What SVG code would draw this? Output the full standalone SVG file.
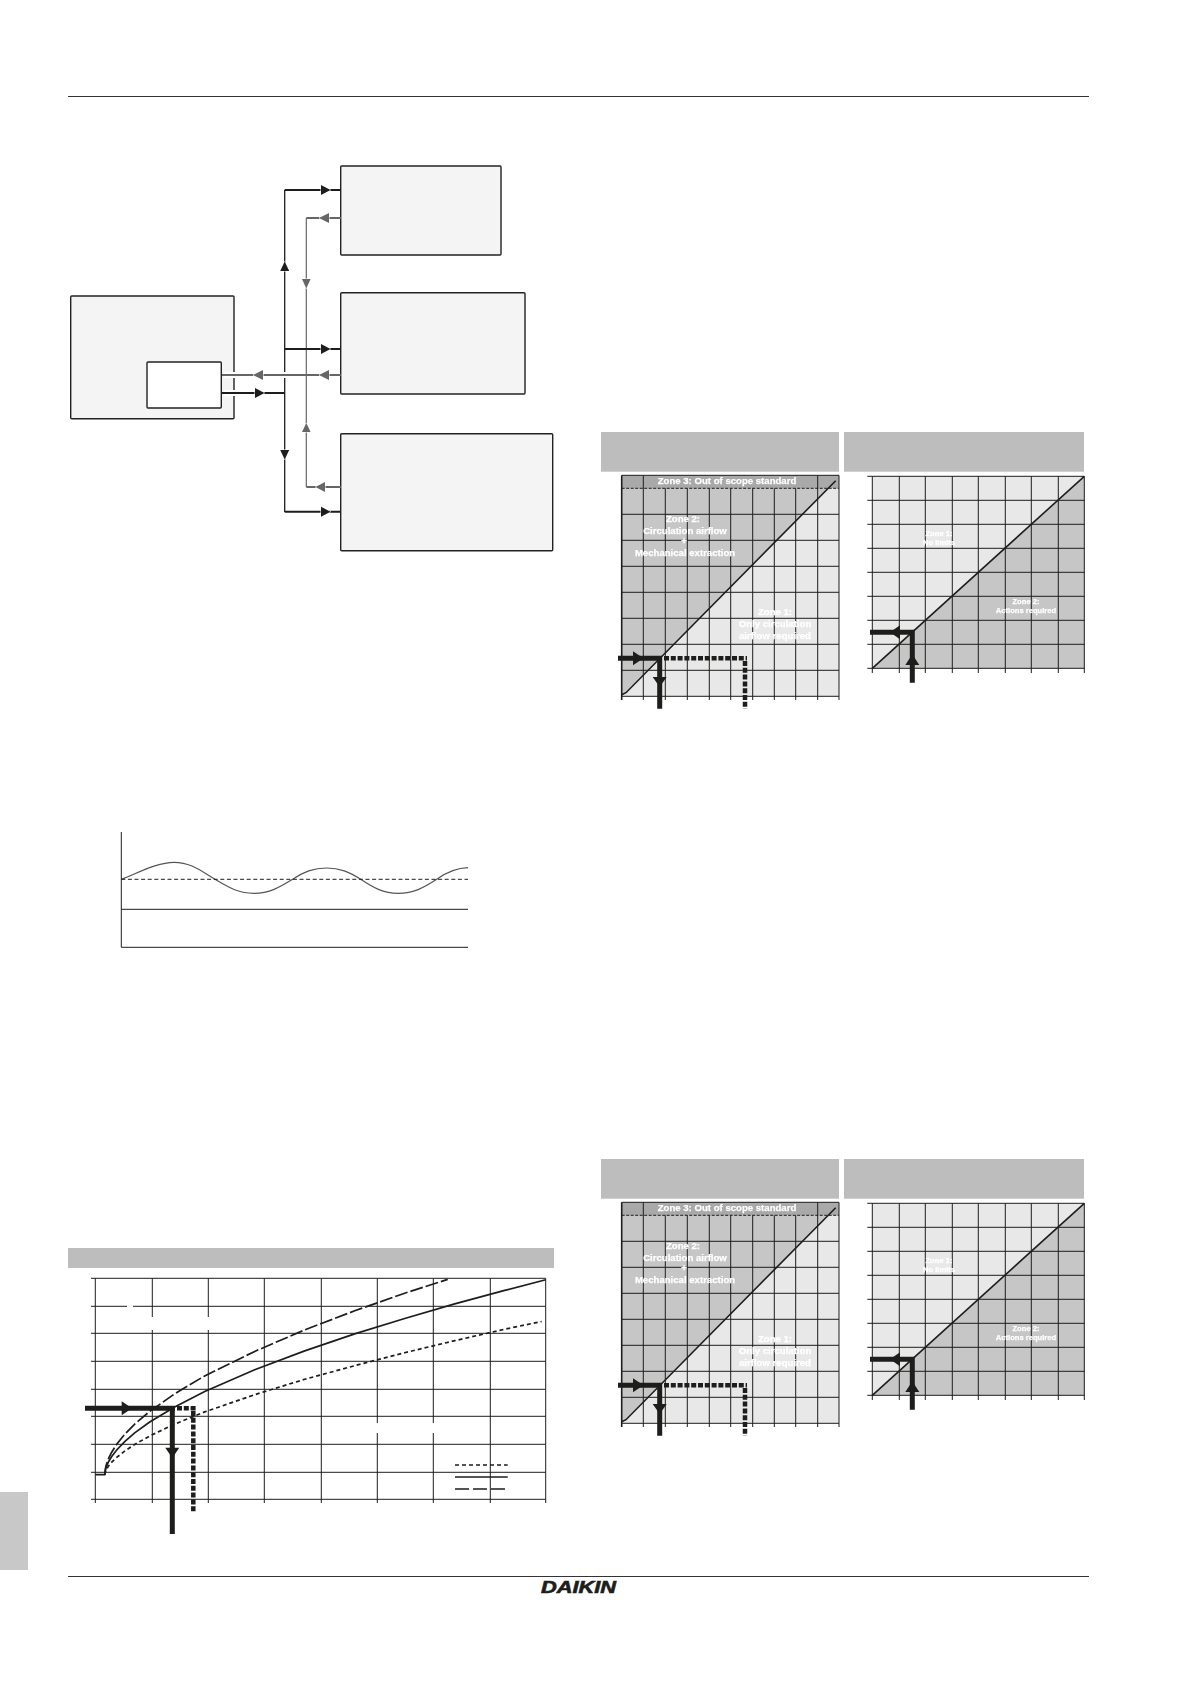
<svg xmlns="http://www.w3.org/2000/svg" xmlns:xlink="http://www.w3.org/1999/xlink" width="1191" height="1684" viewBox="0 0 1191 1684">
<style>
.box{fill:#f4f4f4;stroke:#222;stroke-width:1.4}
.k{fill:none;stroke:#1d1d1b;stroke-width:1.3}
.kb{fill:none;stroke:#1d1d1b;stroke-width:2}
.g{fill:none;stroke:#666;stroke-width:1.2}
.gb{fill:none;stroke:#666;stroke-width:2}
.grid{fill:none;stroke:#1d1d1b;stroke-width:1}
.thick{fill:none;stroke:#1d1d1b;stroke-width:5}
.dash{fill:none;stroke:#1d1d1b;stroke-width:4.5;stroke-dasharray:5 1.8}
.curve{fill:none;stroke:#1d1d1b;stroke-width:1.7}
.hdr{fill:#bdbdbd}
.t{font-family:"Liberation Sans",Arial,sans-serif;font-weight:700;fill:#fff;stroke:#fff;stroke-width:.25;text-anchor:middle}
.hk{fill:#1d1d1b}
.hg{fill:#666}
.ah{stroke:#fff;stroke-width:1;paint-order:stroke}
</style>
<defs>
<g id="chartA">
<rect x="621.7" y="475.3" width="217.3" height="221" fill="#e8e8e8"/>
<polygon points="621.7,488.3 828.2,488.3 626,692.7 621.7,694.7" fill="#c6c6c6"/>
<rect x="621.7" y="475.3" width="217.3" height="13" fill="#a9a9a9"/>
<path class="grid" d="M621.7 514.3H839M621.7 540.3H839M621.7 566.3H839M621.7 592.3H839M621.7 618.3H839M621.7 644.3H839M621.7 670.3H839M621.7 696.3H839M621.7 475.3H839"/>
<path class="grid" d="M643.3 475.3V700M665.3 488.3V700M687.3 488.3V700M709.3 488.3V700M730.7 488.3V700M752.7 488.3V700M774.3 488.3V700M795.7 488.3V700M817.7 475.3V700M839 475.3V700"/>
<path d="M621.7 475.3V700" fill="none" stroke="#1d1d1b" stroke-width="1.6"/>
<path d="M621.7 488.3H839" fill="none" stroke="#1d1d1b" stroke-width="1" stroke-dasharray="3 1.5"/>
<path d="M621.7 694.7L626 692.7L835.7 480.7" fill="none" stroke="#1d1d1b" stroke-width="1.6"/>
<g filter="url(#soft)">
<text class="t" font-size="9.6" x="727" y="483.5">Zone 3: Out of scope standard</text>
<text class="t" font-size="9.6" x="683" y="521.5">Zone 2:</text>
<text class="t" font-size="9.6" x="685" y="533.5">Circulation airflow</text>
<text class="t" font-size="9.6" x="684" y="544">+</text>
<text class="t" font-size="9.6" x="685" y="556">Mechanical extraction</text>
<text class="t" font-size="9.6" x="775" y="615">Zone 1:</text>
<text class="t" font-size="9.6" x="775" y="626.5">Only circulation</text>
<text class="t" font-size="9.6" x="775" y="638.5">airflow required</text>
</g>
<path class="thick" d="M618 658.3H662M659.7 656V708.7"/>
<path class="dash" d="M664 658.3H747M745 661V708.7"/>
<polygon class="hk" points="633,651.3 643.5,658.3 633,665.3"/>
<polygon class="hk" points="652.7,677 666.7,677 659.7,687"/>
</g>
<g id="chartB">
<rect x="872.3" y="476.3" width="212" height="192" fill="#e8e8e8"/>
<polygon points="872.3,668.3 1084.3,476.3 1084.3,668.3" fill="#c6c6c6"/>
<path class="grid" d="M867.3 476.3H1084.3M867.3 500.3H1084.3M867.3 524.3H1084.3M867.3 548.3H1084.3M867.3 572.3H1084.3M867.3 596.3H1084.3M867.3 620.3H1084.3M867.3 644.3H1084.3M867.3 668.3H1084.3"/>
<path class="grid" d="M872.3 476.3V673M899.3 476.3V673M925.3 476.3V673M952.3 476.3V673M978.3 476.3V673M1005.3 476.3V673M1031.3 476.3V673M1058.3 476.3V673M1084.3 476.3V673"/>
<path d="M872.3 668.3L1084.3 476.3" fill="none" stroke="#1d1d1b" stroke-width="1.6"/>
<g filter="url(#soft)">
<text class="t" font-size="7.6" x="939" y="535.5">Zone 1:</text>
<text class="t" font-size="7.6" x="939" y="544.5">No limits</text>
<text class="t" font-size="7.6" x="1026" y="604">Zone 2:</text>
<text class="t" font-size="7.6" x="1026" y="612.5">Actions required</text>
</g>
<path class="thick" d="M870 632.3H914.8M912.3 630V682.7"/>
<polygon class="hk" points="900,625.3 890,632.3 900,639.3"/>
<polygon class="hk" points="905.3,665 919.3,665 912.3,654.3"/>
</g>
<filter id="soft" x="-5%" y="-20%" width="110%" height="140%"><feGaussianBlur stdDeviation="0.35"/></filter>
</defs>

<g id="page">
<path d="M68 96.5H1089" fill="none" stroke="#333" stroke-width="1"/>
<path d="M68 1576.5H1089" fill="none" stroke="#333" stroke-width="1"/>
<rect x="0" y="1492" width="28" height="78" fill="#c8c8c8"/>
<text id="logo" x="541" y="1593" font-family="'Liberation Sans',Arial,sans-serif" font-weight="700" font-style="italic" font-size="16.5" textLength="75" lengthAdjust="spacingAndGlyphs" fill="#1d1d1b" stroke="#1d1d1b" stroke-width="0.6">DAIKIN</text>
</g>

<g id="node-left"><rect class="box" x="70.7" y="296" width="163.3" height="122.7" rx="1"/></g>
<g id="node-top"><rect class="box" x="340.7" y="166" width="160.3" height="89" rx="1"/></g>
<g id="node-middle"><rect class="box" x="340.7" y="292.7" width="184.3" height="101.3" rx="1"/></g>
<g id="node-bottom"><rect class="box" x="340.7" y="433.7" width="212" height="117" rx="1"/></g>

<g id="connectors">
<path class="k" d="M284.7 190V512"/>
<path d="M224 375H335M224 393H280" fill="none" stroke="#fff" stroke-width="6"/>
<path class="g" d="M306.3 218V487"/>
<path class="gb" d="M341 218H306.3M341 487H306.3M341 375H221"/>
<path class="kb" d="M284.7 190H341M284.7 349H341M284.7 511.7H341M221 393H284.7"/>
<polygon class="hk ah" points="321,185 330.5,190 321,195"/>
<polygon class="hk ah" points="321,344 330.5,349 321,354"/>
<polygon class="hk ah" points="321,506.7 330.5,511.7 321,516.7"/>
<polygon class="hk ah" points="255,388 264.5,393 255,398"/>
<polygon class="hk ah" points="280.2,271 284.7,261.5 289.2,271"/>
<polygon class="hk ah" points="280.2,450 284.7,459.5 289.2,450"/>
<polygon class="hg ah" points="329,213 319,218 329,223"/>
<polygon class="hg ah" points="329,370 319,375 329,380"/>
<polygon class="hg ah" points="263,370 253,375 263,380"/>
<polygon class="hg ah" points="325,482 315.5,487 325,492"/>
<polygon class="hg ah" points="302,279 306.3,288.5 310.6,279"/>
<polygon class="hg ah" points="302,432 306.3,423 310.6,432"/>
</g>
<g id="node-inner"><rect x="147" y="362" width="74.3" height="46" rx="1" fill="#fff" stroke="#222" stroke-width="1.4"/></g>

<g id="wave-chart">
<path d="M121.3 879.3C140 872 158 862.3 174 862.3C191 862.3 201 871 215 879.3C229 887.5 238 893.3 254 893.3C270 893.3 280 887 292.7 879.3C304 872 313 868 326.7 868C340 868 349 872 360.7 879.3C373 887.5 383 893.3 398.3 893.3C414 893.3 424 887.5 436.7 879.3C447 872 456 868 468 867.7" fill="none" stroke="#555" stroke-width="1.2"/>
<path d="M121.3 879.3H468" fill="none" stroke="#1d1d1b" stroke-width="1" stroke-dasharray="4 2.6"/>
<path d="M121.3 832V947.3H468M121.3 909.3H468" fill="none" stroke="#1d1d1b" stroke-width="1"/>
</g>

<g id="curve-chart">
<rect class="hdr" x="68" y="1248" width="486" height="20"/>
<path class="grid" d="M91 1278.3H545.7M91 1306.3H545.7M91 1333.3H545.7M91 1361.3H545.7M91 1389.3H545.7M91 1416.3H545.7M91 1444.3H545.7M91 1472.3H545.7M91 1499.3H545.7"/>
<path class="grid" d="M95.3 1278.3V1503M152.3 1278.3V1503M208.3 1278.3V1503M264.3 1278.3V1503M321.3 1278.3V1503M377.3 1278.3V1503M433.3 1278.3V1503M490.3 1278.3V1503M545.7 1278.3V1503"/>
<path d="M127 1305.2h6v2.2h-6zM151 1317h2.6v13h-2.6zM207 1317h2.6v13h-2.6zM376 1423h2.6v10h-2.6zM432 1423h2.6v10h-2.6z" fill="#fff"/>
<polyline class="curve" points="95.3,1474.7 104.7,1474.7 105.7,1468.8 106.7,1465.9 108.7,1461.5 111.7,1456.6 116.7,1450 124.7,1441.6 134.7,1432.9 149.7,1422 174.7,1406.9 204.7,1391.4 254.7,1369.7 304.7,1350.9 354.7,1333.9 404.7,1318.5 454.7,1303.9 504.7,1290.4 545.7,1279.8"/>
<polyline class="curve" stroke-dasharray="13 3" points="104.7,1474.7 105.7,1467 106.7,1463.5 108.7,1458.2 111.7,1452.2 116.7,1444.3 124.7,1434.3 134.7,1424.1 149.7,1411.4 174.7,1393.8 204.7,1375.9 254.7,1351.4 304.7,1329.9 354.7,1310.8 404.7,1293.2 447.7,1279.4"/>
<polyline class="curve" stroke-dasharray="4 3" points="104.7,1474.7 105.7,1470.9 106.7,1468.9 108.7,1465.8 111.7,1462.2 116.7,1457.4 124.7,1451.1 134.7,1444.5 149.7,1436 174.7,1424.1 204.7,1411.9 254.7,1394.7 304.7,1379.3 354.7,1365.7 404.7,1352.7 454.7,1340.7 504.7,1329.2 541.7,1321.5"/>
<path class="curve" d="M455 1465H507.7" stroke-dasharray="4 3"/>
<path class="curve" d="M455 1477H507.7"/>
<path class="curve" d="M455 1489H507.7" stroke-dasharray="14 4"/>
<path class="thick" d="M85 1408.3H175M172.3 1406V1534"/>
<path class="dash" d="M177 1408.3H195.7M193.3 1411V1511.7"/>
<polygon class="hk" points="121.7,1401.3 132,1408.3 121.7,1415.3"/>
<polygon class="hk" points="165.3,1447.7 179.3,1447.7 172.3,1458"/>
</g>

<rect class="hdr" x="601" y="432" width="238" height="39.7"/>
<rect class="hdr" x="844" y="432" width="240" height="39.7"/>
<rect class="hdr" x="601" y="1159" width="238" height="39.7"/>
<rect class="hdr" x="844" y="1159" width="240" height="39.7"/>
<g id="chart-a1"><use xlink:href="#chartA"/></g>
<g id="chart-b1"><use xlink:href="#chartB"/></g>
<g id="chart-a2" transform="translate(0 727)"><use xlink:href="#chartA"/></g>
<g id="chart-b2" transform="translate(0 727)"><use xlink:href="#chartB"/></g>
</svg>
